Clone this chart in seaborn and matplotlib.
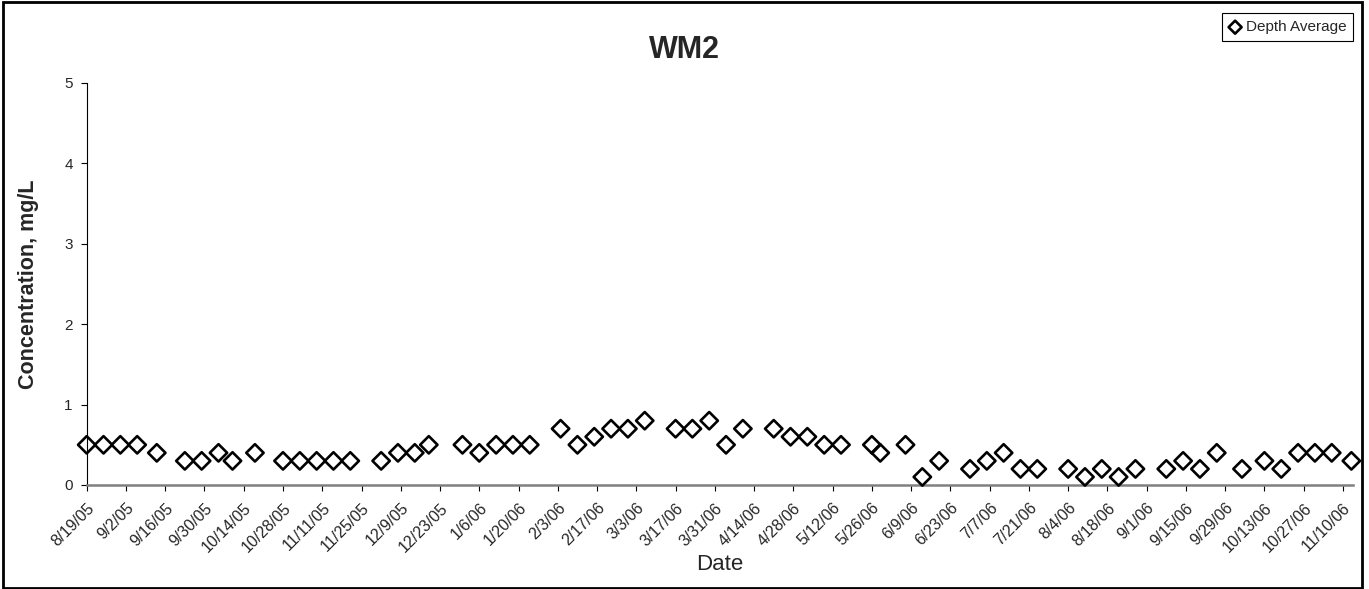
import pandas as pd
import seaborn as sns
import matplotlib
matplotlib.use("Agg")
import matplotlib.pyplot as plt
from matplotlib.patches import Rectangle

# --- data ---
sample_dates = [
    "2005-08-19", "2005-08-25", "2005-08-31", "2005-09-06", "2005-09-13",
    "2005-09-23", "2005-09-29", "2005-10-05", "2005-10-10", "2005-10-18",
    "2005-10-28", "2005-11-03", "2005-11-09", "2005-11-15", "2005-11-21",
    "2005-12-02", "2005-12-08", "2005-12-14", "2005-12-19", "2005-12-31",
    "2006-01-06", "2006-01-12", "2006-01-18", "2006-01-24", "2006-02-04",
    "2006-02-10", "2006-02-16", "2006-02-22", "2006-02-28", "2006-03-06",
    "2006-03-17", "2006-03-23", "2006-03-29", "2006-04-04", "2006-04-10",
    "2006-04-21", "2006-04-27", "2006-05-03", "2006-05-09", "2006-05-15",
    "2006-05-26", "2006-05-29", "2006-06-07", "2006-06-13", "2006-06-19",
    "2006-06-30", "2006-07-06", "2006-07-12", "2006-07-18", "2006-07-24",
    "2006-08-04", "2006-08-10", "2006-08-16", "2006-08-22", "2006-08-28",
    "2006-09-08", "2006-09-14", "2006-09-20", "2006-09-26", "2006-10-05",
    "2006-10-13", "2006-10-19", "2006-10-25", "2006-10-31", "2006-11-06",
    "2006-11-13",
]
depth_average = [
    0.5, 0.5, 0.5, 0.5, 0.4, 0.3, 0.3, 0.4, 0.3, 0.4,
    0.3, 0.3, 0.3, 0.3, 0.3, 0.3, 0.4, 0.4, 0.5, 0.5,
    0.4, 0.5, 0.5, 0.5, 0.7, 0.5, 0.6, 0.7, 0.7, 0.8,
    0.7, 0.7, 0.8, 0.5, 0.7, 0.7, 0.6, 0.6, 0.5, 0.5,
    0.5, 0.4, 0.5, 0.1, 0.3, 0.2, 0.3, 0.4, 0.2, 0.2,
    0.2, 0.1, 0.2, 0.1, 0.2, 0.2, 0.3, 0.2, 0.4, 0.2,
    0.3, 0.2, 0.4, 0.4, 0.4, 0.3,
]
tick_dates = pd.date_range("2005-08-19", "2006-11-10", freq="14D")
y_ticks = [0, 1, 2, 3, 4, 5]

df = pd.DataFrame({"Date": pd.to_datetime(sample_dates), "Concentration": depth_average})

# --- style ---
sns.set_style("ticks")
plt.rcParams["font.family"] = ["Liberation Sans", "DejaVu Sans"]

W, H = 1369, 589
fig = plt.figure(figsize=(W / 100, H / 100), dpi=100)
ax = fig.add_axes([86.7 / W, 1 - 485 / H, (1353 - 86.7) / W, (485 - 83) / H])

sns.scatterplot(data=df, x="Date", y="Concentration", ax=ax, marker="D", s=78,
                facecolor="none", edgecolor="black", linewidth=1.9,
                label="Depth Average", clip_on=False, zorder=3)

ax.set_xlim(pd.Timestamp("2005-08-19"), pd.Timestamp("2006-11-13 14:00"))
ax.set_ylim(0, 5)
ax.set_yticks(y_ticks)
ax.set_xticks(tick_dates)
ax.set_xticklabels([f"{d.month}/{d.day}/{d:%y}" for d in tick_dates],
                   rotation=45, ha="right", va="top", rotation_mode="anchor", fontsize=11.5)
ax.tick_params(axis="y", labelsize=11, length=4, width=0.8, color="black", pad=6)
ax.tick_params(axis="x", length=4, width=0.8, color="black", pad=7)

sns.despine(ax=ax)
ax.spines["bottom"].set_color("#808080")
ax.spines["bottom"].set_linewidth(1.8)
ax.spines["left"].set_color("black")
ax.spines["left"].set_linewidth(0.8)

ax.set_xlabel("Date", fontsize=16, labelpad=0)
ax.xaxis.set_label_coords(0.5, -(564 - 485) / (485 - 83), transform=ax.transAxes)
ax.xaxis.label.set_va("center")
ax.set_ylabel("")
fig.text(28.7 / W, 1 - 284.5 / H, "Concentration, mg/L", rotation=90, fontsize=15.5,
         fontweight="bold", ha="center", va="center")
fig.text(684 / W, 1 - 50.5 / H, "WM2", fontsize=22, fontweight="bold", ha="center", va="center")

ax.get_legend().remove()
leg = fig.legend(*ax.get_legend_handles_labels(), loc="upper right",
                 bbox_to_anchor=(1353.3 / W, 1 - 13.3 / H), borderaxespad=0,
                 fontsize=11, fancybox=False, framealpha=1, edgecolor="black",
                 handlelength=0.8, handletextpad=0.3, borderpad=0.45, markerscale=0.75)
leg.get_frame().set_linewidth(0.8)

# chart-area border
fig.patches.append(Rectangle((3 / W, 1 / H), (1362 - 3) / W, (H - 2.5) / H,
                             transform=fig.transFigure, fill=False,
                             edgecolor="black", linewidth=2))

fig.savefig("out.png", dpi=100)
